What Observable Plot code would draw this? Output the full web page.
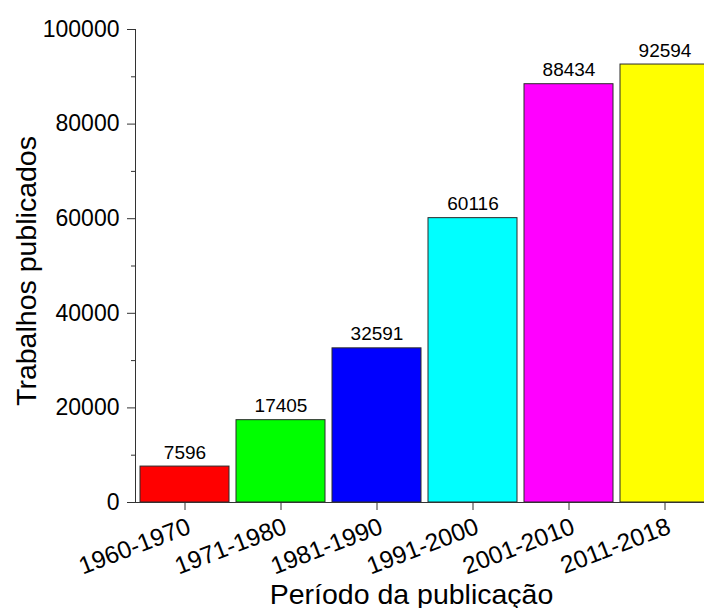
<!DOCTYPE html>
<html>
<head>
<meta charset="utf-8">
<script src="https://cdn.jsdelivr.net/npm/d3@7"></script>
<script src="https://cdn.jsdelivr.net/npm/@observablehq/plot@0.6"></script>
<style>
  html, body { margin: 0; padding: 0; background: white; overflow: hidden; }
  #chart svg { overflow: hidden; }
</style>
</head>
<body>
<div id="chart"></div>
<script>
const periods = ["1960-1970", "1971-1980", "1981-1990", "1991-2000", "2001-2010", "2011-2018"];
const counts = [7596, 17405, 32591, 60116, 88434, 92594];
const colors = ["#ff0000", "#00ff00", "#0000ff", "#00ffff", "#ff00ff", "#ffff00"];
const majorTicks = [0, 20000, 40000, 60000, 80000, 100000];
const minorTicks = [10000, 30000, 50000, 70000, 90000];

const data = periods.map((p, i) => ({period: p, count: counts[i], color: colors[i]}));
const axisColor = "#333";
const font = "Arial, 'Liberation Sans', sans-serif";

const chart = Plot.plot({
  width: 704,
  height: 608,
  marginTop: 29,
  marginBottom: 106,
  marginLeft: 135,
  marginRight: 0,
  style: {fontFamily: font, color: "#000", background: "white"},
  x: {domain: periods, range: [135, 714], paddingInner: 0.075, paddingOuter: 0.035},
  y: {domain: [0, 100000], range: [502, 29]},
  marks: [
    Plot.barY(data, {x: "period", y: "count", fill: "color", stroke: "#2a2a2a", strokeWidth: 1}),
    Plot.text(data, {x: "period", y: "count", text: d => String(d.count), dy: -8, lineAnchor: "bottom", fontSize: 19, fill: "#000"}),
    Plot.frame({anchor: "left", stroke: axisColor}),
    Plot.frame({anchor: "bottom", stroke: axisColor}),
    Plot.axisY({ticks: majorTicks, tickSize: 8, tickPadding: 8, fontSize: 23, stroke: axisColor, fill: "#000", label: null, tickFormat: d => String(d)}),
    Plot.axisY({ticks: minorTicks, tickSize: 4, tickFormat: null, stroke: axisColor, label: null, text: null}),
    Plot.axisX({tickSize: 8, tickFormat: null, text: null, stroke: axisColor, label: null}),
    Plot.text(periods, {x: d => d, frameAnchor: "bottom", dx: 1, dy: 14, rotate: -21, textAnchor: "end", lineAnchor: "top", fontSize: 24.5, fill: "#000"}),
    Plot.text(["Trabalhos publicados"], {frameAnchor: "left", dx: -109, dy: 5, rotate: -90, textAnchor: "middle", lineAnchor: "middle", fontSize: 28.5, fill: "#000"}),
    Plot.text(["Período da publicação"], {frameAnchor: "bottom", dx: -8.5, dy: 101, lineAnchor: "bottom", textAnchor: "middle", fontSize: 28.5, fill: "#000"})
  ]
});
document.getElementById("chart").appendChild(chart);
</script>
</body>
</html>
